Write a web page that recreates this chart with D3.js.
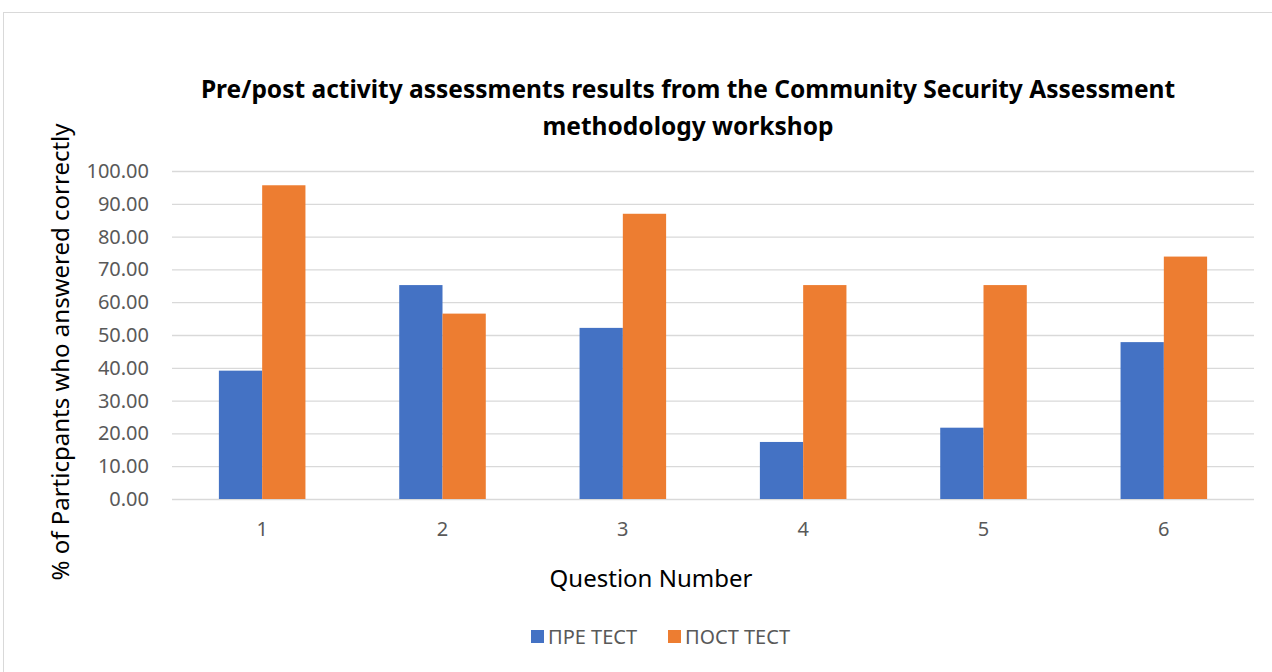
<!DOCTYPE html>
<html>
<head>
<meta charset="utf-8">
<script src="https://cdn.jsdelivr.net/npm/d3@7"></script>
<style>
  body { margin: 0; background: #fff; }
  text { font-family: "Noto Sans", "Open Sans", sans-serif; }
</style>
</head>
<body>
<svg id="chart"></svg>
<script>
const questions = ['1', '2', '3', '4', '5', '6'];
const preTest = [39.13, 65.22, 52.17, 17.39, 21.74, 47.83];
const postTest = [95.65, 56.52, 86.96, 65.22, 65.22, 73.91];
const seriesNames = ['ПРЕ ТЕСТ', 'ПОСТ ТЕСТ'];
const seriesColors = ['#4472c4', '#ed7d31'];
const yTicks = [0, 10, 20, 30, 40, 50, 60, 70, 80, 90, 100];

const svgWidth = 1272;
const svgHeight = 672;
const plotLeft = 172, plotRight = 1254, plotTop = 171, plotBottom = 499;

const svg = d3.select('#chart')
  .attr('width', svgWidth)
  .attr('height', svgHeight);

// outer chart border
svg.append('rect')
  .attr('x', 3.5).attr('y', 12.5)
  .attr('width', 1300).attr('height', 700)
  .attr('fill', '#fff')
  .attr('stroke', '#d9d9d9');

const xScale = d3.scaleBand()
  .domain(questions)
  .range([plotLeft, plotRight])
  .paddingInner(0.52)
  .paddingOuter(0.26);

const subScale = d3.scaleBand()
  .domain([0, 1])
  .range([0, xScale.bandwidth()]);

const yScale = d3.scaleLinear()
  .domain([0, 100])
  .range([plotBottom, plotTop]);

// gridlines
svg.append('g')
  .selectAll('line')
  .data(yTicks)
  .enter()
  .append('line')
  .attr('x1', plotLeft).attr('x2', plotRight)
  .attr('y1', d => yScale(d) + 0.5).attr('y2', d => yScale(d) + 0.5)
  .attr('stroke', '#d9d9d9')
  .attr('stroke-width', 1.3);

// y tick labels
const yAxis = d3.axisLeft(yScale)
  .tickValues(yTicks)
  .tickFormat(d3.format('.2f'))
  .tickSize(0)
  .tickPadding(0);

const yG = svg.append('g')
  .attr('transform', 'translate(' + 149 + ',0)')
  .call(yAxis);
yG.select('.domain').remove();
yG.selectAll('text')
  .attr('fill', '#595959')
  .style('font-size', '20px');

// bars
const series = [preTest, postTest];
series.forEach((vals, si) => {
  svg.append('g')
    .selectAll('rect')
    .data(vals)
    .enter()
    .append('rect')
    .attr('x', (d, i) => xScale(questions[i]) + subScale(si))
    .attr('width', subScale.bandwidth())
    .attr('y', d => yScale(d))
    .attr('height', d => yScale(0) - yScale(d))
    .attr('fill', seriesColors[si]);
});

// x tick labels
const xAxis = d3.axisBottom(xScale)
  .tickSize(0)
  .tickPadding(0);
const xG = svg.append('g')
  .attr('transform', 'translate(0,' + 522 + ')')
  .call(xAxis);
xG.select('.domain').remove();
xG.selectAll('text')
  .attr('fill', '#595959')
  .style('font-size', '20px');

// title
const title = svg.append('text')
  .attr('text-anchor', 'middle')
  .attr('fill', '#000')
  .style('font-size', '24.5px')
  .style('font-weight', 'bold');
title.append('tspan').attr('x', 688).attr('y', 98)
  .text('Pre/post activity assessments results from the Community Security Assessment');
title.append('tspan').attr('x', 688).attr('y', 135)
  .text('methodology workshop');

// axis titles
svg.append('text')
  .attr('transform', 'translate(69,' + 352 + ') rotate(-90)')
  .attr('text-anchor', 'middle')
  .attr('fill', '#000')
  .style('font-size', '24px')
  .text('% of Particpants who answered correctly');

svg.append('text')
  .attr('x', 651).attr('y', 587)
  .attr('text-anchor', 'middle')
  .attr('fill', '#000')
  .style('font-size', '24px')
  .text('Question Number');

// legend
const legendX = [531, 668];
const legend = svg.append('g');
seriesNames.forEach((name, i) => {
  legend.append('rect')
    .attr('x', legendX[i]).attr('y', 630)
    .attr('width', 13).attr('height', 13)
    .attr('fill', seriesColors[i]);
  legend.append('text')
    .attr('x', legendX[i] + 17).attr('y', 644)
    .attr('fill', '#595959')
    .style('font-size', '20px')
    .text(name);
});
</script>
</body>
</html>
